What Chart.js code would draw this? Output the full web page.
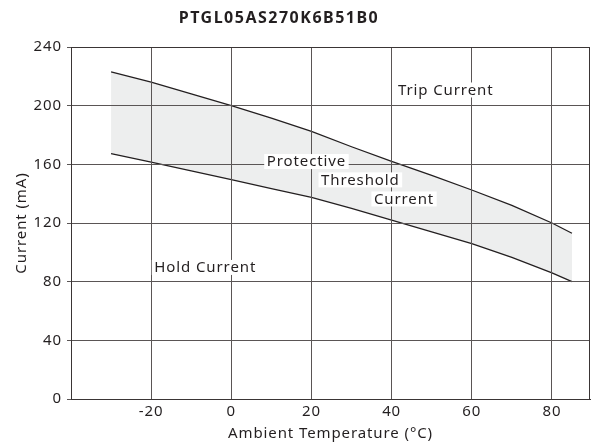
<!DOCTYPE html>
<html>
<head>
<meta charset="utf-8">
<script src="https://cdn.jsdelivr.net/npm/chart.js@4/dist/chart.umd.min.js"></script>
<style>
  html, body { margin: 0; padding: 0; background: #ffffff; }
  #wrap { width: 595px; height: 443px; position: relative; }
</style>
</head>
<body>
<div id="wrap"><canvas id="chart"></canvas></div>
<script>
// Values
const temperatures = [-30, -20, -10, 0, 10, 20, 30, 40, 50, 60, 70, 80, 85];
const tripCurrent = [223, 216, 208, 200, 191.5, 182.5, 172, 162, 152.5, 142.5, 132, 120, 113];
const holdCurrent = [167.3, 161.5, 155.5, 149.5, 143.5, 137.5, 130, 122, 114, 106, 96.5, 86, 80];
const xTicks = [-20, 0, 20, 40, 60, 80];

const chartTitle = 'PTGL05AS270K6B51B0';

// Region labels, placed in data units: [text, temperature, current]
const regionLabels = [
    ['Trip Current', 53.5, 210.7],
    ['Protective', 18.75, 161.9],
    ['Threshold', 32.2, 149.4],
    ['Current', 43.1, 136.4],
    ['Hold Current', -6.5, 89.7],
];

const textColor = '#231f20';
const gridColor = '#5a5555';
const fontFamily = '"Noto Sans", sans-serif';
const spacing = '0.9px';

// The reference font is wider than Noto Sans, so space letters a little
const spacingPlugin = {
    id: 'spacing',
    beforeUpdate(chart) { chart.ctx.letterSpacing = spacing; },
    beforeDraw(chart) { chart.ctx.letterSpacing = spacing; },
};

// Title (sits left of centre in the reference), frame and text labels
const overlayPlugin = {
    id: 'overlay',
    afterDraw(chart) {
        const { ctx, chartArea: a, scales } = chart;
        ctx.save();
        ctx.strokeStyle = '#3a3535';
        ctx.lineWidth = 1;
        ctx.strokeRect(a.left + 0.5, a.top + 0.5, a.right - a.left - 1, a.bottom - a.top);

        ctx.textAlign = 'center';
        ctx.textBaseline = 'middle';
        ctx.fillStyle = textColor;
        ctx.font = 'bold 16px ' + fontFamily;
        ctx.letterSpacing = '1.5px';
        ctx.fillText(chartTitle, 279, 18);

        ctx.font = '15px ' + fontFamily;
        ctx.letterSpacing = spacing;
        regionLabels.forEach(([text, t, c]) => {
            const x = scales.x.getPixelForValue(t);
            const y = scales.y.getPixelForValue(c);
            const w = ctx.measureText(text).width + 5;
            ctx.fillStyle = '#ffffff';
            ctx.fillRect(x - w / 2, y - 7.5, w, 15);
            ctx.fillStyle = textColor;
            ctx.fillText(text, x, y + 0.5);
        });
        ctx.restore();
    },
};

const lineStyle = {
    borderColor: textColor,
    borderWidth: 1.3,
    pointRadius: 0,
    tension: 0,
};

new Chart(document.getElementById('chart'), {
    type: 'line',
    data: {
        datasets: [
            {
                label: 'Trip Current',
                data: temperatures.map((t, i) => ({ x: t, y: tripCurrent[i] })),
                fill: false,
                ...lineStyle,
            },
            {
                label: 'Hold Current',
                data: temperatures.map((t, i) => ({ x: t, y: holdCurrent[i] })),
                fill: '-1',
                backgroundColor: '#edeeee',
                ...lineStyle,
            },
        ],
    },
    options: {
        responsive: true,
        maintainAspectRatio: false,
        animation: false,
        layout: { padding: { left: 0, right: 5, top: 47, bottom: 0 } },
        plugins: {
            legend: { display: false },
            tooltip: { enabled: false },
            title: { display: false },
        },
        scales: {
            x: {
                type: 'linear',
                min: -40,
                max: 89.5,
                afterBuildTicks(scale) {
                    scale.ticks = xTicks.map(v => ({ value: v }));
                },
                afterFit(scale) { scale.height = 44; },
                ticks: {
                    color: textColor,
                    font: { family: fontFamily, size: 15 },
                    padding: 4,
                    maxRotation: 0,
                },
                grid: { color: gridColor, drawTicks: false, z: 1 },
                border: { color: '#3a3535', z: 1 },
                title: {
                    display: true,
                    text: 'Ambient Temperature (°C)',
                    color: textColor,
                    font: { family: fontFamily, size: 15 },
                    padding: { top: 4, bottom: 0 },
                },
            },
            y: {
                min: 0,
                max: 240,
                afterFit(scale) { scale.width = 71; },
                ticks: {
                    stepSize: 40,
                    color: textColor,
                    font: { family: fontFamily, size: 15 },
                    padding: 5,
                },
                grid: { color: gridColor, tickLength: 4, tickColor: gridColor, z: 1 },
                border: { color: '#3a3535', z: 1 },
                title: {
                    display: true,
                    text: 'Current (mA)',
                    color: textColor,
                    font: { family: fontFamily, size: 15 },
                    padding: { top: 13, bottom: 0 },
                },
            },
        },
    },
    plugins: [spacingPlugin, overlayPlugin],
});
</script>
</body>
</html>
